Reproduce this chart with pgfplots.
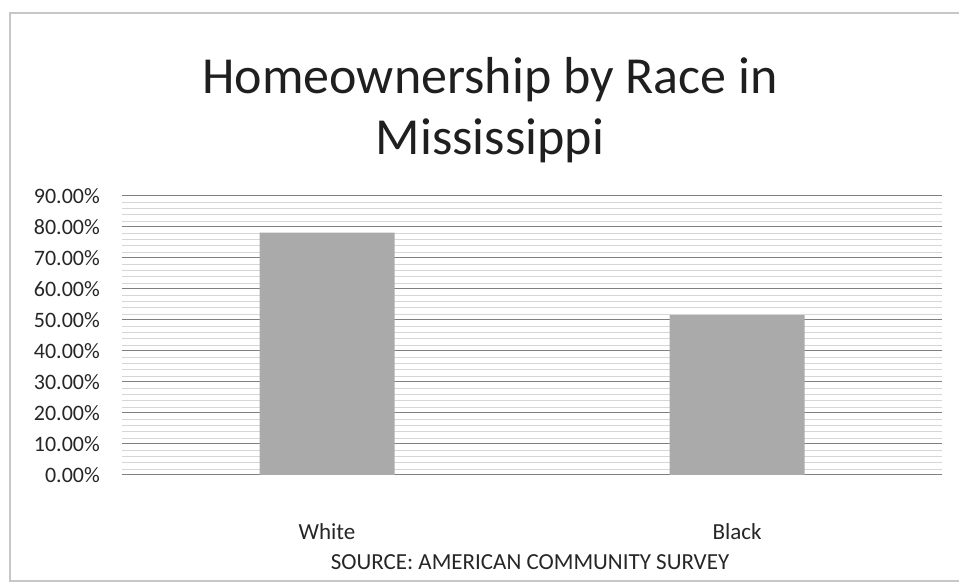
\documentclass[border=0pt]{standalone}
\usepackage{pgfplots}
\pgfplotsset{compat=1.18}
\usepackage{fontspec}
\setmainfont{Carlito}
\definecolor{barg}{RGB}{170,170,170}
\begin{document}
\begin{tikzpicture}[x=1pt,y=1pt]
\useasboundingbox (0,0) rectangle (959,583);
\draw[color=black!22, line width=1.5pt] (962,570) -- (10,570) -- (10,2) -- (962,2);
\node[anchor=base, inner sep=0pt, text=black!88, font=\fontsize{52}{62}\selectfont] at (490,489) {Homeownership by Race in};
\node[anchor=base, inner sep=0pt, text=black!88, font=\fontsize{52}{62}\selectfont] at (490,428) {Mississippi};
\node[anchor=base, inner sep=0pt, text=black!85, font=\fontsize{23}{28}\selectfont] at (530,13) {SOURCE: AMERICAN COMMUNITY SURVEY};
\begin{axis}[at={(122pt,108pt)}, anchor=south west, scale only axis,
  width=820pt, height=279pt,
  ymin=0, ymax=90, xmin=-0.5, xmax=1.5,
  ytick={0,10,20,30,40,50,60,70,80,90},
  yticklabels={0.00\%,10.00\%,20.00\%,30.00\%,40.00\%,50.00\%,60.00\%,70.00\%,80.00\%,90.00\%},
  xtick={0,1}, xticklabels={White,Black},
  axis line style={draw=none},
  major tick length=0pt, minor tick length=0pt,
  ymajorgrids, yminorgrids, minor y tick num=4,
  major grid style={color=black!50, line width=1pt},
  minor grid style={color=black!16, line width=0.5pt},
  tick label style={font=\fontsize{22}{27}\selectfont, text=black!85},
  yticklabel style={anchor=east, inner sep=0pt, xshift=-22pt},
  xticklabel style={font=\fontsize{23}{28}\selectfont, anchor=base, inner sep=0pt, yshift=-65pt},
  ybar, bar width=135pt,
  clip=false,
]
\addplot[fill=barg, draw=none] coordinates {(0,78.2) (1,51.6)};
\end{axis}
\end{tikzpicture}
\end{document}
